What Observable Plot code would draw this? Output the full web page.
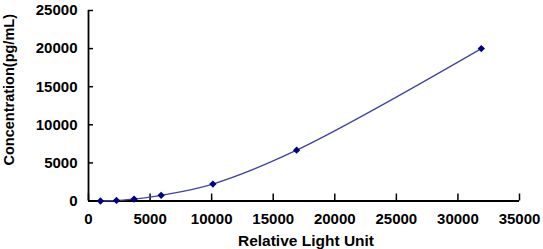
<!DOCTYPE html>
<html>
<head>
<meta charset="utf-8">
<script src="https://cdn.jsdelivr.net/npm/d3@7"></script>
<script src="https://cdn.jsdelivr.net/npm/@observablehq/plot@0.6"></script>
<style>
  html, body { margin: 0; padding: 0; background: #fff; }
  #chart svg { display: block; }
</style>
</head>
<body>
<div id="chart"></div>
<script>
const rlu = [970, 2270, 3700, 5900, 10100, 16900, 31900];
const conc = [0, 82, 247, 741, 2222, 6667, 20000];
const xTicks = [0, 5000, 10000, 15000, 20000, 25000, 30000, 35000];
const yTicks = [0, 5000, 10000, 15000, 20000, 25000];
const xLabel = "Relative Light Unit";
const yLabel = "Concentration(pg/mL)";

const data = rlu.map((x, i) => ({x, y: conc[i]}));

const W = 543, H = 249;
const mL = 88, mR = 24, mT = 10, mB = 48.5;
const fw = W - mL - mR, fh = H - mT - mB;
const font = "'Liberation Sans', Arial, sans-serif";

const chart = Plot.plot({
  width: W,
  height: H,
  marginLeft: mL,
  marginRight: mR,
  marginTop: mT,
  marginBottom: mB,
  style: {fontFamily: font, background: "#fff", overflow: "visible"},
  x: {domain: [0, 35000]},
  y: {domain: [0, 25000]},
  marks: [
    Plot.axisX(xTicks, {tickSize: 0, tickPadding: 12, tickFormat: d => String(d), fontSize: 15, fontWeight: "bold", fill: "#000", label: null}),
    Plot.axisY(yTicks, {tickSize: 0, tickPadding: 11, tickFormat: d => String(d), fontSize: 15, fontWeight: "bold", fill: "#000", label: null}),
    Plot.tickX(xTicks, {x: d => d, insetTop: fh - 7, stroke: "#000", strokeWidth: 1.5}),
    Plot.tickY(yTicks, {y: d => d, insetRight: fw - 5, stroke: "#000", strokeWidth: 1.5}),
    Plot.ruleX([0], {stroke: "#000", strokeWidth: 1.8}),
    Plot.ruleY([0], {stroke: "#000", strokeWidth: 1.8}),
    Plot.line(data, {x: "x", y: "y", curve: "catmull-rom", stroke: "#4343a3", strokeWidth: 1.3}),
    Plot.dot(data, {x: "x", y: "y", symbol: "diamond2", r: 3.3, fill: "#000080", stroke: "none"}),
    Plot.text([xLabel], {frameAnchor: "bottom", text: d => d, textAnchor: "middle", lineAnchor: "middle", dx: 2, dy: 40.5, fontSize: 15.5, fontWeight: "bold", fill: "#000"}),
    Plot.text([yLabel], {frameAnchor: "left", text: d => d, textAnchor: "middle", lineAnchor: "middle", rotate: -90, dx: -79, dy: -16, fontSize: 14.5, fontWeight: "bold", fill: "#000"})
  ]
});
document.getElementById("chart").appendChild(chart);
</script>
</body>
</html>
